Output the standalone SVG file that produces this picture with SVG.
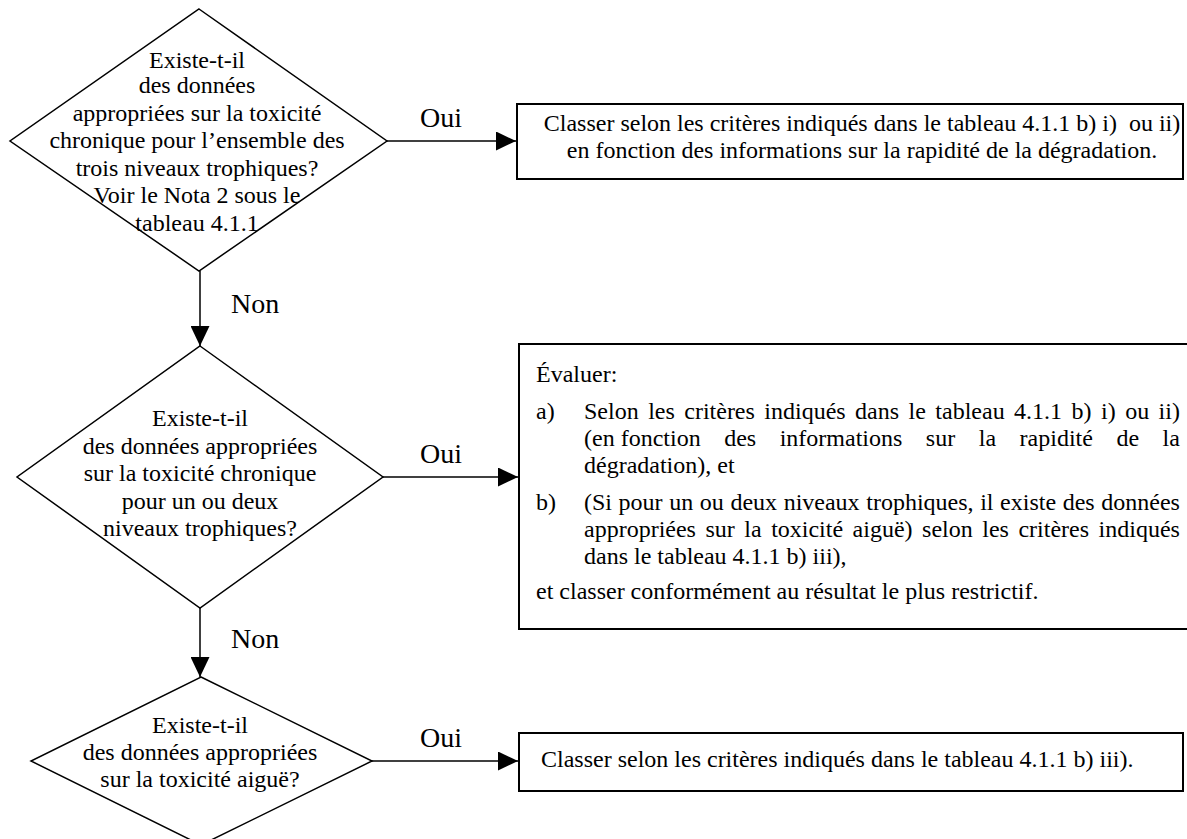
<svg xmlns="http://www.w3.org/2000/svg" width="1187" height="839" viewBox="0 0 1187 839">
<defs>
<marker id="arr" markerUnits="userSpaceOnUse" markerWidth="20" markerHeight="19" refX="20" refY="9.5" orient="auto">
<path d="M0,0 L20,9.5 L0,19 z" fill="#000"/>
</marker>
<style>
.shape{fill:#fff;stroke:#000;stroke-width:1.5}
.box{fill:#fff;stroke:#000;stroke-width:2}
.t{font-family:"Liberation Serif","Times New Roman",serif;font-size:24px;fill:#000}
.c{text-anchor:middle}
.lbl{font-family:"Liberation Serif","Times New Roman",serif;font-size:28px;fill:#000}
.conn{stroke:#000;stroke-width:1.5;fill:none;marker-end:url(#arr)}
</style>
</defs>
<rect width="1187" height="839" fill="#fff"/>
<g id="connectors">
<line class="conn" x1="200" y1="271" x2="200" y2="346"/>
<line class="conn" x1="200" y1="608" x2="200" y2="677"/>
<line class="conn" x1="387" y1="141" x2="516" y2="141"/>
<line class="conn" x1="383" y1="477" x2="518" y2="477"/>
<line class="conn" x1="372" y1="761" x2="518" y2="761"/>
<text class="lbl" x="420" y="127">Oui</text>
<text class="lbl" x="231" y="313">Non</text>
<text class="lbl" x="420" y="463">Oui</text>
<text class="lbl" x="231" y="648">Non</text>
<text class="lbl" x="420" y="747">Oui</text>
</g>
<g id="decision1">
<polygon class="shape" points="199,9 387,141 199,271 10,141"/>
<text class="t c" x="197" y="68">Existe-t-il</text>
<text class="t c" x="197" y="93">des données</text>
<text class="t c" x="197" y="120.5">appropriées sur la toxicité</text>
<text class="t c" x="197" y="148">chronique pour l’ensemble des</text>
<text class="t c" x="197" y="175.5">trois niveaux trophiques?</text>
<text class="t c" x="197" y="203">Voir le Nota 2 sous le</text>
<text class="t c" x="197" y="230.5">tableau 4.1.1</text>
</g>
<g id="action1">
<rect class="box" x="517" y="104" width="666" height="75"/>
<text class="t c" x="862" y="131" xml:space="preserve">Classer selon les critères indiqués dans le tableau 4.1.1 b) i)  ou ii)</text>
<text class="t c" x="862" y="158">en fonction des informations sur la rapidité de la dégradation.</text>
</g>
<g id="decision2">
<polygon class="shape" points="200,346 383,477 200,608 17,477"/>
<text class="t c" x="200" y="426">Existe-t-il</text>
<text class="t c" x="200" y="453.5">des données appropriées</text>
<text class="t c" x="200" y="481">sur la toxicité chronique</text>
<text class="t c" x="200" y="508.5">pour un ou deux</text>
<text class="t c" x="200" y="536">niveaux trophiques?</text>
</g>
<g id="action2">
<rect class="box" x="519" y="344" width="680" height="285"/>
<text class="t" x="536" y="382">Évaluer:</text>
<text class="t" x="536" y="419">a)</text>
<text class="t" x="584" y="419" word-spacing="3.46">Selon les critères indiqués dans le tableau 4.1.1 b) i) ou ii)</text>
<text class="t" x="584" y="446">(en fonction<tspan word-spacing="17.53"> des informations sur la rapidité de la</tspan></text>
<text class="t" x="584" y="473">dégradation), et</text>
<text class="t" x="536" y="510">b)</text>
<text class="t" x="584" y="510" word-spacing="0.6">(Si pour un ou deux niveaux trophiques, il existe des données</text>
<text class="t" x="584" y="537" word-spacing="3.51">appropriées sur la toxicité aiguë) selon les critères indiqués</text>
<text class="t" x="584" y="564">dans le tableau 4.1.1 b) iii),</text>
<text class="t" x="536" y="599">et classer conformément au résultat le plus restrictif.</text>
</g>
<g id="decision3">
<polygon class="shape" points="201,677 372,761 201,845 31,761"/>
<text class="t c" x="200" y="733">Existe-t-il</text>
<text class="t c" x="200" y="760">des données appropriées</text>
<text class="t c" x="200" y="787">sur la toxicité aiguë?</text>
</g>
<g id="action3">
<rect class="box" x="519" y="733" width="664" height="58"/>
<text class="t" x="541" y="767">Classer selon les critères indiqués dans le tableau 4.1.1 b) iii).</text>
</g>
</svg>
